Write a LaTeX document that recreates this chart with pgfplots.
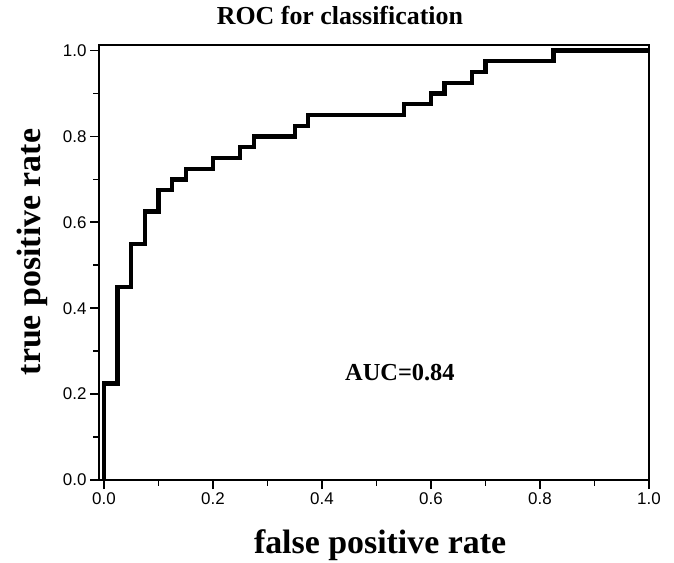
\documentclass[border=0pt]{standalone}
\usepackage{fontspec}
\setmainfont{Liberation Serif}
\newfontfamily\arial{Liberation Sans}
\usepackage{pgfplots}
\pgfplotsset{compat=1.18}
\usepackage{pgfplotstable}

% ROC curve: false positive rate vs true positive rate (step points)
\pgfplotstableread{
fpr   tpr
0.000 0.000
0.000 0.225
0.025 0.225
0.025 0.450
0.050 0.450
0.050 0.550
0.075 0.550
0.075 0.625
0.100 0.625
0.100 0.675
0.125 0.675
0.125 0.700
0.150 0.700
0.150 0.725
0.200 0.725
0.200 0.750
0.250 0.750
0.250 0.775
0.275 0.775
0.275 0.800
0.350 0.800
0.350 0.825
0.375 0.825
0.375 0.850
0.550 0.850
0.550 0.875
0.600 0.875
0.600 0.900
0.625 0.900
0.625 0.925
0.675 0.925
0.675 0.950
0.700 0.950
0.700 0.975
0.825 0.975
0.825 1.000
1.000 1.000
}\roc

\begin{document}
\begin{tikzpicture}
\begin{axis}[
  at={(0,0)}, anchor=south west,
  scale only axis,
  width=550bp, height=435bp,
  xmin=-0.009, xmax=1, ymin=0, ymax=1.013,
  xtick={0,0.2,0.4,0.6,0.8,1.0},
  ytick={0,0.2,0.4,0.6,0.8,1.0},
  minor tick num=1,
  tick align=outside,
  xtick pos=bottom, ytick pos=left,
  major tick length=9bp, minor tick length=5.5bp,
  tick style={black, line width=1.8bp},
  axis line style={line width=1.8bp},
  /pgf/number format/assume math mode=true,
  tick label style={font=\arial\fontsize{17}{17}\selectfont},
  xticklabel style={/pgf/number format/.cd, fixed, fixed zerofill, precision=1},
  yticklabel style={/pgf/number format/.cd, fixed, fixed zerofill, precision=1},
  title={ROC for classification},
  every axis title/.style={font=\bfseries\fontsize{26}{26}\selectfont,
    at={(axis description cs:0.438,1.046)}, anchor=base},
  xlabel={false positive rate},
  xlabel style={font=\bfseries\fontsize{34}{34}\selectfont,
    at={(axis description cs:0.511,-0.168)}, anchor=base},
  ylabel={true positive rate},
  ylabel style={font=\bfseries\fontsize{34}{34}\selectfont,
    at={(axis description cs:-0.107,0.524)}, anchor=base, rotate=0},
  clip=false,
]
\addplot[black, line width=4.3bp, line join=miter] table[x=fpr, y=tpr] {\roc};
\node[anchor=base, font=\bfseries\fontsize{24.5}{24.5}\selectfont]
  at (axis cs:0.543,0.231) {AUC=0.84};
\end{axis}
\pgfresetboundingbox
\path[use as bounding box] (-99bp,-83bp) rectangle (575bp,480bp);
\end{tikzpicture}
\end{document}
